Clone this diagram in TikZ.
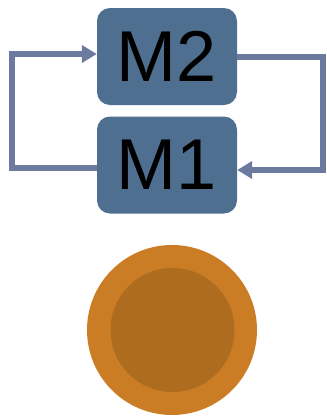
\documentclass[tikz,border=0pt]{standalone}
\usepackage{fontspec}
\setmainfont{Liberation Sans}
\usetikzlibrary{arrows.meta}
\definecolor{boxblue}{RGB}{79,111,145}
\definecolor{linkcol}{RGB}{107,122,158}
\definecolor{outerorange}{RGB}{203,125,37}
\definecolor{innerorange}{RGB}{173,108,30}
\begin{document}
\begin{tikzpicture}[x=1pt,y=-1pt,
  mbox/.style={draw=none,fill=boxblue,rounded corners=13pt,minimum width=140pt,minimum height=97pt,inner sep=0pt,font=\fontsize{72}{72}\selectfont,text=black},
  link/.style={draw=linkcol,line width=5.5pt,-{Triangle[length=15pt,width=17pt]}}]
\useasboundingbox (0,0) rectangle (327,416);
\node[mbox] (m2) at (167,56.5) {M2};
\node[mbox] (m1) at (167,165) {M1};
\coordinate (l1) at (12,168);
\coordinate (l2) at (12,54);
\coordinate (r1) at (323,57);
\coordinate (r2) at (323,170);
\draw[link] (m1.west |- l1) -- (l1) -- (l2) -- (m2.west |- l2);
\draw[link] (m2.east |- r1) -- (r1) -- (r2) -- (m1.east |- r2);
\node[circle,fill=outerorange,minimum size=170pt,inner sep=0pt] (outer) at (172,330) {};
\node[circle,fill=innerorange,minimum size=124pt,inner sep=0pt] (inner) at (172.5,330) {};
\end{tikzpicture}
\end{document}
